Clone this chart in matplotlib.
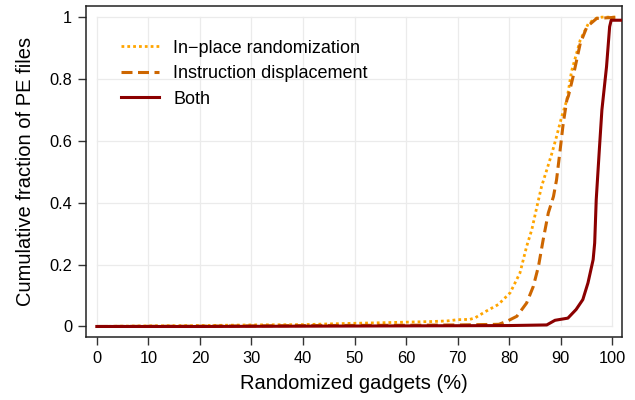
import matplotlib
matplotlib.use("Agg")
import matplotlib.pyplot as plt

# ---- data ----
inplace_x = [0, 10, 20, 30, 40, 49, 55, 60, 65, 68, 70, 72.4, 73.4, 75.6, 77.9, 80.2, 82.1,
             83.4, 84.4, 85.4, 86.3, 87.3, 88.3, 89.2, 90.2, 91.2, 92.1, 93.8, 95.4, 97, 98, 101]
inplace_y = [0, 0.002, 0.003, 0.005, 0.006, 0.01, 0.012, 0.014, 0.016, 0.018, 0.022, 0.023, 0.028,
             0.05, 0.071, 0.109, 0.173, 0.259, 0.313, 0.388, 0.453, 0.506, 0.56, 0.614, 0.678,
             0.732, 0.824, 0.926, 0.98, 0.997, 1.0, 1.0]

displ_x = [0, 20, 40, 60, 70, 78, 79.6, 81.5, 83.4, 84.7, 85.7, 86.6, 87.6, 88.6, 89.2, 89.9,
           90.5, 91.2, 91.5, 92.4, 93.8, 95.1, 97, 101.3]
displ_y = [0, 0.001, 0.003, 0.004, 0.005, 0.007, 0.017, 0.033, 0.076, 0.13, 0.195, 0.28, 0.367,
           0.42, 0.474, 0.571, 0.657, 0.732, 0.745, 0.807, 0.915, 0.969, 0.996, 1.0]

both_x = [0, 20, 40, 60, 80, 87.3, 88.9, 91.4, 93.0, 94.3, 95.3, 96.3, 96.6, 96.9, 97.5, 98.0,
          98.9, 99.5, 99.8, 102]
both_y = [0, 0.0, 0.001, 0.002, 0.003, 0.005, 0.02, 0.027, 0.055, 0.087, 0.141, 0.216, 0.27,
          0.41, 0.571, 0.70, 0.84, 0.969, 0.99, 0.99]

labels = ["In\u2212place randomization", "Instruction displacement", "Both"]
colors = ["#FFA500", "#CD6600", "#8B0000"]
xticks = [0, 10, 20, 30, 40, 50, 60, 70, 80, 90, 100]
yticks = [0, 0.2, 0.4, 0.6, 0.8, 1.0]
yticklabels = ["0", "0.2", "0.4", "0.6", "0.8", "1"]

plt.rcParams['font.family'] = ['Liberation Sans', 'DejaVu Sans']

fig = plt.figure(figsize=(6.35, 4.0), dpi=100)
ax = fig.add_axes([86 / 635, 63 / 400, 536 / 635, 331 / 400])

# grid only inside data range
for xv in xticks:
    ax.plot([xv, xv], [0, 1], color="#ebebeb", lw=0.9, zorder=0)
for yv in yticks:
    ax.plot([0, 100], [yv, yv], color="#ebebeb", lw=0.9, zorder=0)

ax.plot(inplace_x, inplace_y, color=colors[0], lw=2.0, linestyle=(0, (1, 1.1)),
        label=labels[0], zorder=3)
ax.plot(displ_x, displ_y, color=colors[1], lw=2.2, linestyle=(0, (3.6, 1.8)),
        label=labels[1], zorder=4)
ax.plot(both_x, both_y, color=colors[2], lw=2.2, label=labels[2], zorder=5)

ax.set_xlim(-2.1, 101.9)
ax.set_ylim(-0.034, 1.036)
ax.set_xticks(xticks)
ax.set_xticklabels([str(v) for v in xticks])
ax.set_yticks(yticks)
ax.set_yticklabels(yticklabels)
ax.tick_params(axis='both', direction='out', length=6, width=1.0, color="#333333",
               labelsize=11.8, pad=4)
for s in ax.spines.values():
    s.set_color("#222222")
    s.set_linewidth(1.1)

ax.set_xlabel("Randomized gadgets (%)", fontsize=14.5, labelpad=6)
ax.set_ylabel("Cumulative fraction of PE files", fontsize=14.5, labelpad=10)

leg = ax.legend(loc="upper left", bbox_to_anchor=(0.052, 0.92), frameon=False,
                fontsize=13, handlelength=2.1, handletextpad=0.8, labelspacing=0.47,
                borderaxespad=0)

fig.savefig("out.png", dpi=100)
